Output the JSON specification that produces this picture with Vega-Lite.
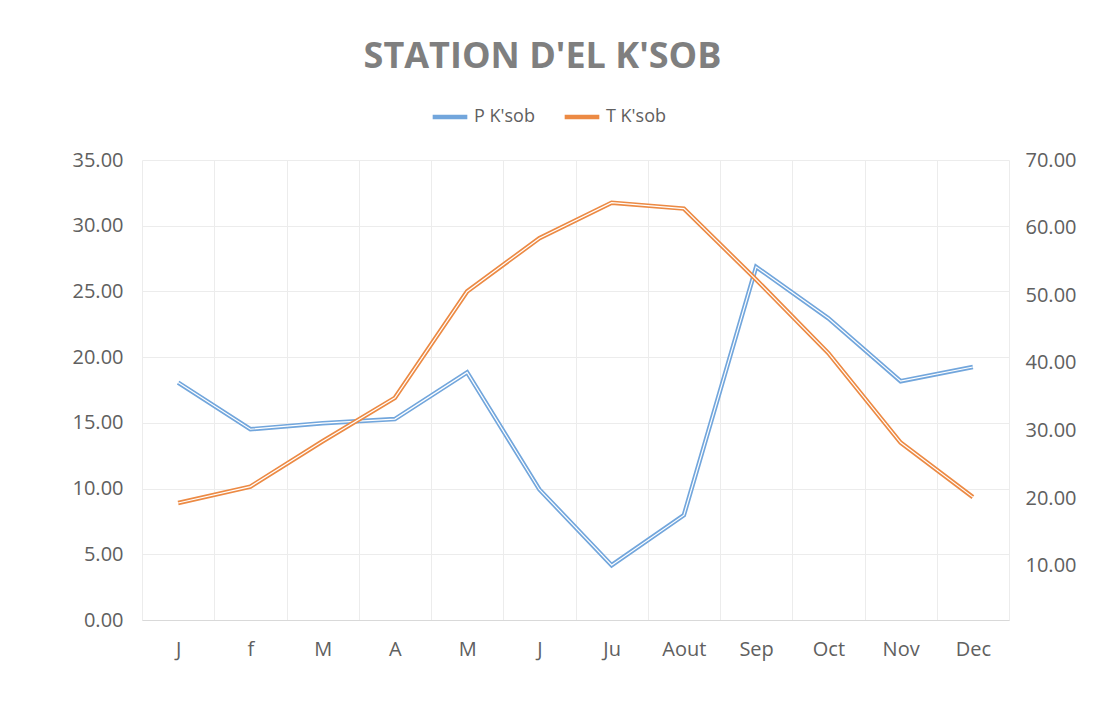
{
  "$schema": "https://vega.github.io/schema/vega-lite/v6.json",
  "width": 867,
  "height": 460,
  "autosize": "none",
  "padding": {"left": 142, "top": 160, "right": 95, "bottom": 97},
  "background": "white",
  "title": {
    "text": "STATION D'EL K'SOB",
    "font": "Open Sans",
    "fontSize": 36,
    "fontWeight": "bold",
    "color": "#7f7f7f",
    "dx": -33,
    "offset": 21
  },
  "config": {
    "view": {"stroke": null},
    "axis": {
      "labelFont": "Open Sans",
      "labelFontSize": 20,
      "labelColor": "#606060",
      "ticks": false,
      "domain": false,
      "title": null
    }
  },
  "data": {
    "values": [
      {"mo": 1, "s": "P K'sob", "v": 37.1},
      {"mo": 2, "s": "P K'sob", "v": 30.2},
      {"mo": 3, "s": "P K'sob", "v": 31.1},
      {"mo": 4, "s": "P K'sob", "v": 31.7},
      {"mo": 5, "s": "P K'sob", "v": 38.6},
      {"mo": 6, "s": "P K'sob", "v": 21.3},
      {"mo": 7, "s": "P K'sob", "v": 10.1},
      {"mo": 8, "s": "P K'sob", "v": 17.5},
      {"mo": 9, "s": "P K'sob", "v": 54.2},
      {"mo": 10, "s": "P K'sob", "v": 46.6},
      {"mo": 11, "s": "P K'sob", "v": 37.3},
      {"mo": 12, "s": "P K'sob", "v": 39.4},
      {"mo": 1, "s": "T K'sob", "v": 8.9},
      {"mo": 2, "s": "T K'sob", "v": 10.15},
      {"mo": 3, "s": "T K'sob", "v": 13.6},
      {"mo": 4, "s": "T K'sob", "v": 16.9},
      {"mo": 5, "s": "T K'sob", "v": 25.0},
      {"mo": 6, "s": "T K'sob", "v": 29.05},
      {"mo": 7, "s": "T K'sob", "v": 31.75},
      {"mo": 8, "s": "T K'sob", "v": 31.3},
      {"mo": 9, "s": "T K'sob", "v": 25.9},
      {"mo": 10, "s": "T K'sob", "v": 20.3},
      {"mo": 11, "s": "T K'sob", "v": 13.5},
      {"mo": 12, "s": "T K'sob", "v": 9.35}
    ]
  },
  "encoding": {
    "x": {
      "field": "mo",
      "type": "ordinal",
      "bandPosition": 0.5,
      "scale": {"type": "band", "paddingInner": 0, "paddingOuter": 0},
      "axis": {
        "labelExpr": "['J','f','M','A','M','J','Ju','Aout','Sep','Oct','Nov','Dec'][datum.value-1]",
        "labelAngle": 0,
        "tickBand": "extent",
        "grid": true,
        "gridColor": "#ececec",
        "domain": true,
        "domainColor": "#d9d9d9",
        "labelPadding": 19
      }
    }
  },
  "layer": [
    {
      "transform": [{"filter": {"field": "s", "equal": "P K'sob"}}],
      "encoding": {
        "y": {
          "field": "v",
          "type": "quantitative",
          "scale": {"domain": [2, 70], "nice": false},
          "axis": {
            "orient": "right",
            "format": ".2f",
            "grid": false,
            "values": [10, 20, 30, 40, 50, 60, 70],
            "labelPadding": 16
          }
        }
      },
      "layer": [
        {
          "mark": {"type": "line", "strokeWidth": 4.5},
          "encoding": {
            "color": {
              "field": "s",
              "type": "nominal",
              "scale": {"domain": ["P K'sob", "T K'sob"], "range": ["#72a6dc", "#ec8a44"]},
              "legend": {
                "title": null,
                "orient": "none",
                "direction": "horizontal",
                "legendX": 288,
                "legendY": -63,
                "symbolType": "stroke",
                "symbolSize": 1200,
                "symbolStrokeWidth": 4.5,
                "labelFont": "Open Sans",
                "labelFontSize": 18,
                "labelColor": "#606060",
                "columnPadding": 20,
                "labelOffset": 4
              }
            }
          }
        },
        {
          "mark": {"type": "line", "strokeWidth": 1.2, "color": "#ffffff"},
          "encoding": {}
        }
      ]
    },
    {
      "transform": [{"filter": {"field": "s", "equal": "T K'sob"}}],
      "encoding": {
        "y": {
          "field": "v",
          "type": "quantitative",
          "scale": {"domain": [0, 35], "nice": false},
          "axis": {
            "orient": "left",
            "format": ".2f",
            "grid": true,
            "gridColor": "#ececec",
            "values": [0, 5, 10, 15, 20, 25, 30, 35],
            "labelPadding": 19
          }
        }
      },
      "layer": [
        {
          "mark": {"type": "line", "strokeWidth": 4.5},
          "encoding": {
            "color": {"field": "s", "type": "nominal"}
          }
        },
        {
          "mark": {"type": "line", "strokeWidth": 1.2, "color": "#ffffff"},
          "encoding": {}
        }
      ]
    }
  ],
  "resolve": {"scale": {"y": "independent"}}
}
